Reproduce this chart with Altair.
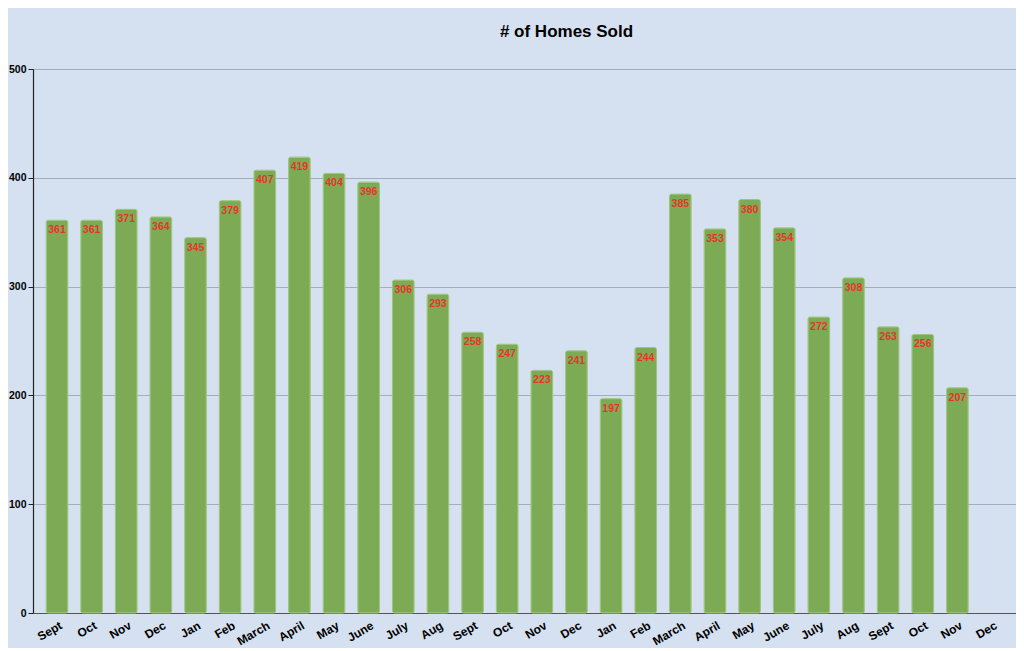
import json
import altair as alt
import pandas as pd

months = ["Sept", "Oct", "Nov", "Dec", "Jan", "Feb", "March", "April", "May", "June",
          "July", "Aug", "Sept", "Oct", "Nov", "Dec", "Jan", "Feb", "March", "April",
          "May", "June", "July", "Aug", "Sept", "Oct", "Nov", "Dec"]
sold = [361, 361, 371, 364, 345, 379, 407, 419, 404, 396,
        306, 293, 258, 247, 223, 241, 197, 244, 385, 353,
        380, 354, 272, 308, 263, 256, 207, None]

df = pd.DataFrame({"idx": list(range(len(months))), "month": months, "sold": sold})

label_expr = json.dumps(months) + "[datum.value]"

x = alt.X("idx:O", scale=alt.Scale(domain=list(range(len(months))), paddingInner=0.375, paddingOuter=0.38),
          axis=alt.Axis(title=None, labelExpr=label_expr, labelAngle=330, labelAlign="right",
                        labelBaseline="middle", labelFont="Liberation Sans", labelFontWeight="bold",
                        labelFontSize=12, labelColor="#000000", ticks=False, labelPadding=11,
                        labelOffset=4,
                        domainColor="#555555", domainWidth=1.2, grid=False, labelOverlap=False))
y = alt.Y("sold:Q", scale=alt.Scale(domain=[0, 500]),
          axis=alt.Axis(title=None, values=[0, 100, 200, 300, 400, 500], labelFont="Liberation Sans",
                        labelFontWeight="bold", labelFontSize=10.5, labelColor="#000000",
                        tickColor="#222222", tickSize=5, domainColor="#222222", domainWidth=1.2,
                        gridColor="#a3aebb", gridWidth=1, labelPadding=2))

bars = alt.Chart(df).mark_bar(color="#7dab55", stroke="#9cc47a", strokeWidth=1,
                              cornerRadius=2).encode(x=x, y=y)
labels = alt.Chart(df).mark_text(color="#e8332a", fontWeight="bold", fontSize=10.5,
                                 font="Liberation Sans Narrow, Liberation Sans", baseline="top",
                                 dy=5).encode(x=x, y=y, text=alt.Text("sold:Q"))

chart = alt.layer(bars, labels).properties(
    width=983, height=544,
    title=alt.TitleParams("# of Homes Sold", font="Liberation Sans", fontSize=17, fontWeight="bold",
                          color="#000000", anchor="middle", dx=42, offset=23),
    background="#d5e1f0",
    autosize=alt.AutoSizeParams(type="none"),
    padding={"left": 25, "top": 61, "right": 0, "bottom": 35},
).configure_view(stroke=None)

chart.save("out.html", embed_options={"renderer": "svg", "actions": False})
